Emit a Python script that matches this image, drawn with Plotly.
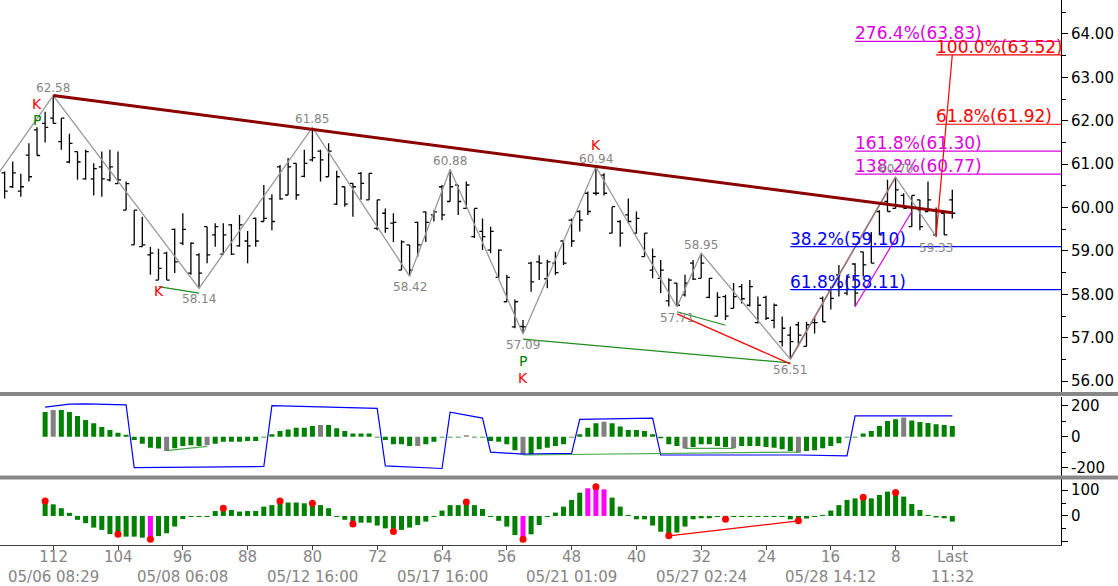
import plotly.graph_objects as go

# ---------------- DATA ----------------
# bars counted back from the last bar (118 ... 1)
bar_k = list(range(118, 0, -1))
opens = [60.38, 60.80, 60.48, 60.71, 61.20, 61.85, 61.94, 62.06, 61.48, 61.05,
         61.29, 60.90, 60.66, 60.94, 60.64, 60.55, 59.94, 59.14, 58.95, 58.60,
         58.33, 58.75, 59.50, 59.18, 58.49, 58.91, 59.56, 59.37, 58.93, 59.60,
         59.12, 59.23, 59.75, 59.68, 60.20, 60.94, 60.29, 61.02, 61.15, 61.10,
         61.30, 60.71, 60.08, 60.48, 60.56, 60.79, 60.18, 59.52, 59.66, 59.21,
         58.56, 59.14, 59.66, 59.90, 59.83, 60.48, 60.14, 60.52, 59.98, 59.33,
         59.45, 59.02, 58.39, 57.83, 57.25, 58.29, 58.72, 58.75, 58.50, 58.72,
         59.23, 59.71, 59.91, 60.33, 60.33, 60.02, 59.41, 59.68, 59.75, 59.41,
         58.87, 58.56, 58.33, 57.75, 58.26, 58.35, 58.72, 58.37, 57.93, 57.50,
         57.95, 57.90, 58.18, 57.75, 57.45, 57.75, 57.22, 56.91, 57.06, 57.30,
         57.35, 57.37, 57.91, 58.18, 58.40, 58.03, 58.68, 58.72, 59.37, 59.91,
         60.41, 59.98, 60.28, 59.56, 60.18, 59.91, 59.37, 59.87]
highs = [60.83, 61.06, 60.78, 61.48, 61.85, 62.21, 62.58, 62.06, 61.70, 61.29,
         61.33, 61.02, 61.29, 61.33, 61.29, 60.60, 59.94, 59.79, 59.10, 59.05,
         58.98, 59.52, 59.87, 59.20, 58.95, 59.56, 59.64, 59.64, 59.62, 59.83,
         59.46, 59.77, 60.52, 60.31, 60.98, 61.14, 61.02, 61.33, 61.85, 61.33,
         61.48, 60.85, 60.48, 60.56, 60.82, 60.79, 60.18, 59.98, 59.87, 59.25,
         59.14, 59.68, 59.91, 59.94, 60.52, 60.88, 60.52, 60.60, 59.98, 59.75,
         59.56, 59.04, 58.45, 57.88, 57.41, 58.75, 58.90, 58.80, 58.98, 59.25,
         59.75, 59.94, 60.37, 60.94, 60.79, 60.02, 59.71, 60.21, 59.91, 59.41,
         59.06, 58.79, 58.37, 58.26, 58.45, 58.79, 58.95, 58.37, 58.05, 57.99,
         58.26, 58.24, 58.33, 57.95, 57.97, 57.79, 57.49, 57.26, 57.37, 57.37,
         57.49, 57.95, 58.18, 58.68, 58.45, 58.72, 58.98, 59.44, 59.94, 60.64,
         60.70, 60.33, 60.28, 60.18, 60.60, 60.00, 59.87, 60.41]
lows = [60.21, 60.45, 60.25, 60.60, 61.20, 61.50, 61.94, 61.33, 61.02, 60.64,
        60.64, 60.28, 60.25, 60.60, 60.55, 59.94, 59.14, 59.10, 58.45, 58.33,
        58.33, 58.49, 59.14, 58.45, 58.14, 58.72, 59.10, 58.91, 58.91, 59.10,
        58.72, 59.10, 59.68, 59.48, 60.18, 60.29, 60.18, 60.70, 61.06, 60.60,
        60.71, 60.06, 60.02, 59.79, 60.18, 60.18, 59.48, 59.42, 59.21, 58.56,
        58.42, 58.87, 59.21, 59.68, 59.71, 60.14, 59.83, 59.98, 59.30, 59.02,
        58.95, 58.37, 57.83, 57.22, 57.09, 58.06, 58.33, 58.14, 58.45, 58.68,
        59.10, 59.45, 59.83, 60.28, 60.28, 59.41, 59.10, 59.64, 59.40, 58.87,
        58.37, 58.03, 57.72, 57.71, 57.95, 58.33, 58.37, 57.91, 57.49, 57.41,
        57.68, 57.79, 57.72, 57.33, 57.41, 57.22, 56.80, 56.51, 56.80, 56.80,
        57.10, 57.37, 57.65, 57.95, 57.98, 57.72, 58.41, 58.72, 59.37, 59.91,
        59.98, 59.98, 59.56, 59.48, 59.91, 59.33, 59.37, 59.75]
closes = [60.80, 60.48, 60.38, 61.21, 61.79, 61.94, 62.06, 61.52, 61.05, 61.29,
          60.66, 60.66, 60.94, 60.64, 60.55, 59.94, 59.14, 59.10, 58.91, 58.33,
          58.95, 59.50, 59.18, 58.49, 58.91, 59.56, 59.37, 58.93, 59.60, 59.12,
          59.23, 59.75, 59.68, 60.20, 60.94, 60.29, 61.02, 60.72, 61.10, 61.30,
          60.71, 60.08, 60.48, 60.56, 60.79, 60.18, 59.52, 59.87, 59.64, 58.56,
          59.14, 59.66, 59.90, 59.83, 60.48, 60.14, 60.52, 59.98, 59.33, 59.45,
          59.02, 58.39, 57.83, 57.25, 57.26, 58.72, 58.75, 58.36, 58.72, 59.23,
          59.71, 59.91, 60.33, 60.33, 60.75, 59.41, 59.68, 59.83, 59.41, 58.87,
          58.56, 58.37, 57.85, 58.26, 57.99, 58.72, 58.37, 57.93, 57.50, 57.95,
          57.68, 58.18, 57.75, 57.35, 57.93, 57.40, 56.91, 57.06, 57.30, 56.80,
          57.35, 57.91, 58.10, 58.45, 58.03, 58.70, 58.98, 59.37, 59.91, 60.14,
          59.98, 60.28, 59.56, 60.18, 59.91, 59.37, 59.87, 60.18]

# zigzag pivots (first point is an off-screen pivot)
zig_k = [121, 112, 94, 80, 68, 63, 54, 45, 35, 32, 21, 8, 3]
zig_p = [60.20, 62.58, 58.14, 61.85, 58.42, 60.88, 57.09, 60.94, 57.71, 58.95, 56.51, 60.70, 59.33]
zig_labels = ["", "62.58", "58.14", "61.85", "58.42", "60.88", "57.09", "60.94", "57.71", "58.95", "56.51", "60.70", "59.33"]
zig_is_high = [False, True, False, True, False, True, False, True, False, True, False, True, False]

# resistance trendline
trend_k = [112, 1]
trend_p = [62.58, 59.88]

# fibonacci levels
fib_blue_start = 21
fib_blue_levels = [59.10, 58.11]
fib_blue_labels = ["38.2%(59.10)", "61.8%(58.11)"]
fib_mag_start = 13
fib_mag_levels = [63.83, 61.30, 60.77]
fib_mag_labels = ["276.4%(63.83)", "161.8%(61.30)", "138.2%(60.77)"]
fib_red_start = 3
fib_red_levels = [63.52, 61.92]
fib_red_labels = ["100.0%(63.52)", "61.8%(61.92)"]

# projection / divergence lines
swing_k = [21, 8]
swing_p = [56.51, 60.70]
mag_line_k = [13, 6]
mag_line_p = [57.72, 59.91]
red_proj_k = [3, 1]
red_proj_p = [59.33, 63.52]
green_div = [([99, 94], [58.18, 58.03]), ([54, 21], [56.97, 56.42]), ([35, 29], [57.60, 57.29])]
red_div_k = [35, 21]
red_div_p = [57.55, 56.40]

# signal letters
sig_k = [114, 114, 99, 54, 54, 45]
sig_text = ["K", "P", "K", "P", "K", "K"]
sig_color = ["#ff0000", "#008000", "#ff0000", "#008000", "#ff0000", "#ff0000"]
sig_at_high = [True, True, False, False, False, True]
sig_shift = [23, 7, -11, -27, -44, 22]

# middle oscillator
osc_k = list(range(113, 0, -1))
osc_vals = [159, 172, 172, 159, 133, 108, 86, 62, 43, 26, 13, -21, -45, -71, -77, -92, -75, -60, -56, -60,
            -56, -45, -32, -32, -32, -28, -28, -6, 15, 37, 47, 58, 58, 69, 75, 75, 54, 37, 20, 20,
            20, -5, -21, -49, -49, -60, -60, -49, -32, -6, -6, -6, 10, -6, -6, -28, -32, -49, -88, -114,
            -114, -81, -71, -60, -49, -5, 15, 58, 86, 97, 86, 65, 43, 43, 37, 15, -10, -49, -60, -77,
            -66, -49, -49, -60, -66, -75, -60, -60, -60, -66, -71, -81, -92, -103, -92, -88, -75, -60, -43, -5,
            -5, 20, 37, 69, 101, 112, 123, 105, 95, 88, 80, 75, 69]
osc_gray_k = [112, 98, 93, 79, 67, 61, 54, 44, 34, 28, 20, 7]
osc_line_k = [113, 110, 108, 103, 102, 86, 85, 72, 71, 64, 63, 59, 58, 54, 48, 47, 38, 37, 20, 14, 13, 1]
osc_line_v = [190, 210, 212, 205, -200, -192, 200, 182, -188, -205, 158, 120, -100, -112, -108, 112, 119, -118, -118, -124, 134, 134]
osc_green = [([98, 93], [-90, -62]), ([54, 20], [-118, -99]), ([34, 28], [-75, -75])]

# bottom oscillator
mom_k = list(range(113, 0, -1))
mom_vals = [55, 45, 30, 12, -15, -28, -45, -54, -70, -76, -80, -80, -84, -90, -78, -67, -41, -12, -4, -4,
            -4, 19, 30, 23, 17, 19, 19, 36, 42, 55, 52, 52, 49, 49, 42, 30, -4, -15, -31, -26,
            -26, -37, -48, -54, -54, -45, -35, -22, -4, 21, 42, 42, 49, 42, 27, -4, -19, -41, -74, -90,
            -71, -35, -4, 13, 36, 62, 90, 107, 113, 103, 71, 36, 4, -13, -13, -37, -61, -76, -64, -41,
            -13, -9, -9, -4, -15, -4, -4, -4, -4, -4, -4, -4, -13, -15, -10, -4, 4, 21, 42, 62,
            68, 75, 68, 81, 94, 88, 75, 46, 23, 4, -6, -9, -22]
mom_magenta_k = [100, 54, 46, 45, 44]
dot_k = [113, 104, 100, 91, 84, 80, 75, 70, 61, 54, 45, 36, 29, 20, 12, 8]
dot_v = [58, -71, -90, 30, 58, 49, -31, -60, 54, -90, 113, -77, -13, -19, 72, 91]
mom_line_k = [36, 20]
mom_line_v = [-77, -19]

# axes
x_tick_k = [112, 104, 96, 88, 80, 72, 64, 56, 48, 40, 32, 24, 16, 8, 1]
x_tick_text = ["112<br>05/06 08:29", "104", "96<br>05/08 06:08", "88", "80<br>05/12 16:00", "72",
               "64<br>05/17 16:00", "56", "48<br>05/21 01:09", "40", "32<br>05/27 02:24", "24",
               "16<br>05/28 14:12", "8", "Last<br>11:32"]
price_ticks = [56, 57, 58, 59, 60, 61, 62, 63, 64]
osc_ticks = [-200, 0, 200]
mom_ticks = [-100, 0, 100]
mom_tick_text = ["", "0", "100"]

# ---------------- STYLE ----------------
FONT = "DejaVu Sans"
X_LEFT, X_RIGHT = 118.57, -12.42
GRAY_TXT = "#858585"
MAG = "#dd00dd"

fig = go.Figure()

fig.add_trace(go.Ohlc(x=bar_k, open=opens, high=highs, low=lows, close=closes,
                      increasing=dict(line=dict(color="black", width=1.3)),
                      decreasing=dict(line=dict(color="black", width=1.3)),
                      tickwidth=0.38, hoverinfo="skip", xaxis="x", yaxis="y"))


def line(xs, ys, color, width, yaxis="y", opacity=1.0):
    fig.add_trace(go.Scatter(x=xs, y=ys, mode="lines", line=dict(color=color, width=width),
                             opacity=opacity, hoverinfo="skip", xaxis="x", yaxis=yaxis))


line(zig_k, zig_p, "#999999", 1.3)
line(swing_k, swing_p, "#a07474", 1.6)
line(trend_k, trend_p, "#8b0000", 3)
for lvl in fib_blue_levels:
    line([fib_blue_start, X_RIGHT], [lvl, lvl], "#0000ff", 1.2)
for lvl in fib_mag_levels:
    line([fib_mag_start, X_RIGHT], [lvl, lvl], MAG, 1.2)
for lvl in fib_red_levels:
    line([fib_red_start, X_RIGHT], [lvl, lvl], "#ff0000", 1.2)
line(mag_line_k, mag_line_p, MAG, 1.2)
line(red_proj_k, red_proj_p, "#ff0000", 1.2)
for gk, gp in green_div:
    line(gk, gp, "#1e8c1e", 1.2)
line(red_div_k, red_div_p, "#ff0000", 1.2)

annotations = []
for txt_list, lvls, start, col in [(fib_mag_labels, fib_mag_levels, fib_mag_start, MAG),
                                   (fib_red_labels, fib_red_levels, fib_red_start, "#ff0000"),
                                   (fib_blue_labels, fib_blue_levels, fib_blue_start, "#0000ff")]:
    for t, lvl in zip(txt_list, lvls):
        annotations.append(dict(x=start, y=lvl, xref="x", yref="y", text=t, showarrow=False,
                                xanchor="left", yanchor="bottom", yshift=-4, xshift=-2,
                                font=dict(family=FONT, size=17, color=col)))

for k, p, t, hi in zip(zig_k, zig_p, zig_labels, zig_is_high):
    if not t:
        continue
    annotations.append(dict(x=k, y=p, xref="x", yref="y", text=t, showarrow=False,
                            xanchor="center", yanchor="bottom" if hi else "top",
                            yshift=-1 if hi else -2,
                            font=dict(family=FONT, size=12, color=GRAY_TXT)))

for k, t, c, hi, sh in zip(sig_k, sig_text, sig_color, sig_at_high, sig_shift):
    i = bar_k.index(k)
    annotations.append(dict(x=k, y=highs[i] if hi else lows[i], xref="x", yref="y", text=t,
                            showarrow=False, xanchor="center", yanchor="middle", yshift=sh,
                            font=dict(family=FONT, size=14, color=c)))

# x tick labels (placed just under the bottom axis)
for k, t in zip(x_tick_k, x_tick_text):
    annotations.append(dict(x=k, y=0, xref="x", yref="paper", text=t, showarrow=False,
                            xanchor="center", yanchor="top", yshift=-1, align="center",
                            font=dict(family=FONT, size=15, color=GRAY_TXT)))

# middle panel
osc_colors = ["#808080" if k in osc_gray_k else "#008000" for k in osc_k]
fig.add_trace(go.Bar(x=osc_k, y=osc_vals, marker=dict(color=osc_colors, line=dict(width=0)),
                     width=0.62, hoverinfo="skip", xaxis="x", yaxis="y2"))
line(osc_line_k, osc_line_v, "#0000ff", 1.2, "y2")
for gk, gv in osc_green:
    line(gk, gv, "#2e9a2e", 1.2, "y2", 0.85)

# bottom panel
mom_colors = ["#ff00ff" if k in mom_magenta_k else "#008000" for k in mom_k]
fig.add_trace(go.Bar(x=mom_k, y=mom_vals, marker=dict(color=mom_colors, line=dict(width=0)),
                     width=0.62, hoverinfo="skip", xaxis="x", yaxis="y3"))
line(mom_line_k, mom_line_v, "#ff0000", 1.2, "y3")
fig.add_trace(go.Scatter(x=dot_k, y=dot_v, mode="markers", marker=dict(color="#ff0000", size=7),
                         hoverinfo="skip", xaxis="x", yaxis="y3"))

# axis arrow markers on the right
X_TRI = X_RIGHT - 0.42
for ticks, ya in [(price_ticks, "y"), (osc_ticks, "y2"), (mom_ticks, "y3")]:
    fig.add_trace(go.Scatter(x=[X_TRI] * len(ticks), y=ticks, mode="markers",
                             marker=dict(symbol="triangle-right", size=7, color="black"),
                             cliponaxis=False, hoverinfo="skip", xaxis="x", yaxis=ya))

W, H = 1118, 586
ML, MR, MT, MB = 0, 57, 0, 41
plot_h = H - MT - MB
plot_w = W - ML - MR


def py2paper(py):
    return (plot_h - py) / plot_h


shapes = []
for sy in [394, 477.5]:
    shapes.append(dict(type="line", xref="paper", yref="paper", x0=0, x1=W / plot_w,
                       y0=py2paper(sy), y1=py2paper(sy), line=dict(color="#878787", width=4)))

axis_common = dict(side="right", anchor="x", showgrid=False, zeroline=False, showline=True,
                   linecolor="black", linewidth=1, ticks="outside", ticklen=6, tickcolor="black",
                   automargin=False,
                   tickfont=dict(family=FONT, size=15, color="black"), fixedrange=True)

fig.update_layout(
    template="none",
    width=W, height=H, margin=dict(l=ML, r=MR, t=MT, b=MB, autoexpand=False),
    plot_bgcolor="white", paper_bgcolor="white", showlegend=False, hovermode=False,
    xaxis=dict(domain=[0, 1], range=[X_LEFT, X_RIGHT], anchor="y3", tickmode="array",
               tickvals=x_tick_k, ticktext=[""] * len(x_tick_k), showticklabels=False,
               ticks="outside", ticklen=4, automargin=False, fixedrange=True,
               tickcolor="#404040", showline=True, linecolor="#404040", showgrid=False,
               zeroline=False, rangeslider=dict(visible=False)),
    yaxis=dict(domain=[py2paper(392), 1], range=[55.751, 64.783], tickmode="array",
               tickvals=price_ticks, ticktext=[f"{v:.2f}" for v in price_ticks],
               minor=dict(dtick=0.5, tick0=0, ticks="outside", ticklen=4, tickcolor="black"),
               **axis_common),
    yaxis2=dict(domain=[py2paper(476), py2paper(396.5)], range=[-253.5, 259], tickmode="array",
                tickvals=osc_ticks, ticktext=[str(v) for v in osc_ticks],
                minor=dict(dtick=100, tick0=0, ticks="outside", ticklen=4, tickcolor="black"),
                **axis_common),
    yaxis3=dict(domain=[0, py2paper(479)], range=[-112.4, 143], tickmode="array",
                tickvals=mom_ticks, ticktext=mom_tick_text,
                minor=dict(dtick=50, tick0=0, ticks="outside", ticklen=4, tickcolor="black"),
                **axis_common),
    shapes=shapes, annotations=annotations,
)

fig.write_html("out.html", config={"displayModeBar": False, "staticPlot": True},
               post_script="document.body.style.margin='0';document.body.style.overflow='hidden';")
